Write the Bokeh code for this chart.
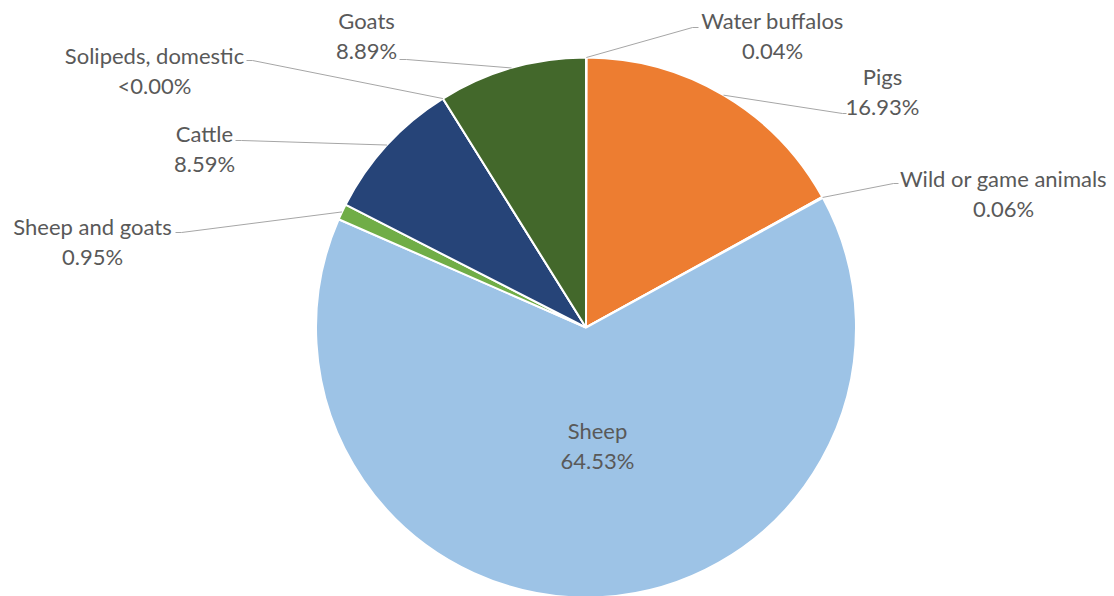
import math
from bokeh.plotting import figure
from bokeh.models import Range1d, ColumnDataSource
from bokeh.embed import file_html
from bokeh.resources import INLINE
from bokeh.core.properties import value

# ---- data ----
categories = ["Water buffalos", "Pigs", "Wild or game animals", "Sheep",
              "Sheep and goats", "Cattle", "Solipeds, domestic", "Goats"]
shares = [0.04, 16.93, 0.06, 64.53, 0.95, 8.59, 0.004, 8.89]
colors = ["#A5A5A5", "#ED7D31", "#FFC000", "#9DC3E6",
          "#70AD47", "#264478", "#9E480E", "#43682B"]

# ---- layout (page pixel coordinates) ----
W, H = 1114, 596


def X(ix):
    return ix


def Y(iy):
    return H - iy


CX, CY, R = X(585.5), Y(327), 270
# label centre of first line (page px), and leader elbow / end (page px)
label_pos = [(772, 20), (882, 76), (1003, 178), (597, 430),
             (92, 226), (204, 133), (154, 55), (366, 20)]
leader = [((692, 27), (698, 27)), ((842, 113), (846, 113)), ((893, 183), (898, 183)), None,
          ((181, 232), (175, 232)), ((241, 140), (235, 140)), ((252, 60), (246, 60)),
          ((406, 59), (399, 59))]
LINE_GAP = 30

total = sum(shares)
starts, ends, mids = [], [], []
cum = 0.0
for v in shares:
    a0 = math.pi / 2 - 2 * math.pi * cum / total
    cum += v
    a1 = math.pi / 2 - 2 * math.pi * cum / total
    starts.append(a0)
    ends.append(a1)
    mids.append((a0 + a1) / 2)

src = ColumnDataSource(dict(start=starts, end=ends, color=colors, cat=categories))

p = figure(width=W, height=H, x_range=Range1d(0, W), y_range=Range1d(0, H),
           output_backend="svg", toolbar_location=None, min_border=0,
           x_axis_type=None, y_axis_type=None)
p.grid.visible = False
p.outline_line_color = None
p.background_fill_color = "white"
p.border_fill_color = "white"

p.wedge(x=CX, y=CY, radius=R, start_angle="start", end_angle="end",
        direction="clock", fill_color="color", line_color="white",
        line_width=2, source=src)

# leader lines
xs, ys = [], []
for i, ld in enumerate(leader):
    if ld is None:
        continue
    ax = CX + R * math.cos(mids[i])
    ay = CY + R * math.sin(mids[i])
    (ex, ey), (tx, ty) = ld
    xs.append([ax, X(ex), X(tx)])
    ys.append([ay, Y(ey), Y(ty)])
p.multi_line(xs=xs, ys=ys, line_color="#A6A6A6", line_width=1)


def fmt(v):
    return "<0.00%" if v < 0.005 else f"{v:.2f}%"


lx = [X(pos[0]) for pos in label_pos]
ly1 = [Y(pos[1]) for pos in label_pos]
ly2 = [Y(pos[1] + LINE_GAP) for pos in label_pos]
pct = [fmt(v) for v in shares]

common = dict(text_align="center", text_baseline="middle",
              text_font=value("Lato"), text_font_size="22px",
              text_color="#595959")
p.text(x=lx, y=ly1, text=categories, **common)
p.text(x=lx, y=ly2, text=pct, **common)

open("out.html", "w").write(file_html(p, INLINE))
